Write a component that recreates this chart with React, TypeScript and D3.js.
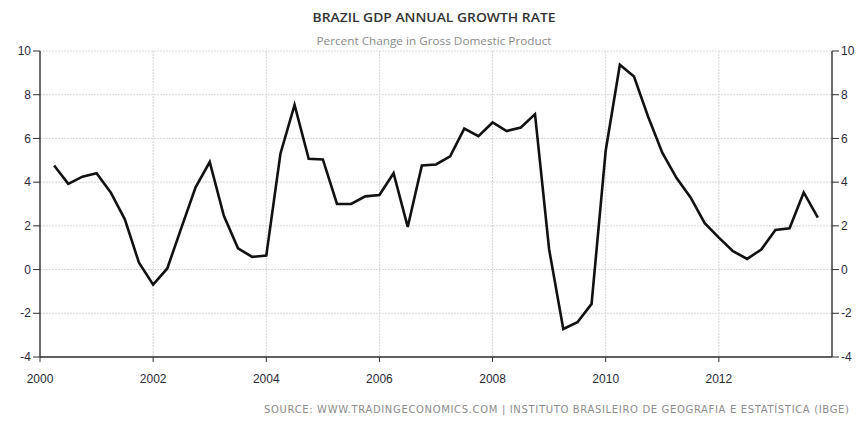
import React from "react";
import * as d3 from "d3";

const title = "BRAZIL GDP ANNUAL GROWTH RATE";
const subtitle = "Percent Change in Gross Domestic Product";
const source = "SOURCE: WWW.TRADINGECONOMICS.COM | INSTITUTO BRASILEIRO DE GEOGRAFIA E ESTATÍSTICA (IBGE)";

// quarterly periods, ending at each quarter (2000.25 = Q1 2000)
const periods: number[] = [
  2000.25, 2000.5, 2000.75, 2001.0, 2001.25, 2001.5, 2001.75, 2002.0,
  2002.25, 2002.5, 2002.75, 2003.0, 2003.25, 2003.5, 2003.75, 2004.0,
  2004.25, 2004.5, 2004.75, 2005.0, 2005.25, 2005.5, 2005.75, 2006.0,
  2006.25, 2006.5, 2006.75, 2007.0, 2007.25, 2007.5, 2007.75, 2008.0,
  2008.25, 2008.5, 2008.75, 2009.0, 2009.25, 2009.5, 2009.75, 2010.0,
  2010.25, 2010.5, 2010.75, 2011.0, 2011.25, 2011.5, 2011.75, 2012.0,
  2012.25, 2012.5, 2012.75, 2013.0, 2013.25, 2013.5, 2013.75,
];
const growth: number[] = [
  4.76, 3.92, 4.25, 4.41, 3.53, 2.3, 0.31, -0.69,
  0.05, 1.92, 3.76, 4.92, 2.46, 0.97, 0.58, 0.64,
  5.3, 7.53, 5.07, 5.04, 3.0, 3.0, 3.35, 3.41,
  4.41, 1.95, 4.76, 4.81, 5.18, 6.45, 6.1, 6.73,
  6.34, 6.5, 7.11, 0.92, -2.72, -2.41, -1.57, 5.45,
  9.37, 8.83, 6.99, 5.35, 4.2, 3.3, 2.12, 1.46,
  0.84, 0.49, 0.92, 1.81, 1.89, 3.53, 2.38,
];
const yTicks: number[] = [-4, -2, 0, 2, 4, 6, 8, 10];
const xTicks: number[] = [2000, 2002, 2004, 2006, 2008, 2010, 2012];

const W = 857;
const H = 421;
const left = 40;
const right = 832;
const top = 51;
const bottom = 357;

export default function App() {
  const x = d3.scaleLinear().domain([2000, 2014]).range([left, right]);
  const y = d3.scaleLinear().domain([-4, 10]).range([bottom, top]);
  const line = d3
    .line<number>()
    .x((_, i) => x(periods[i]))
    .y((d) => y(d));
  const axisColor = "#2e2e2e";
  const labelColor = "#2a2a3a";
  const gridColor = "#d6d6d6";
  const font = "Liberation Sans, Arial, sans-serif";

  return (
    <svg
      width={W}
      height={H}
      style={{ position: "absolute", left: 0, top: 0, background: "#fff" }}
    >
      <text
        x={434}
        y={22}
        textAnchor="middle"
        fontFamily="'Open Sans', sans-serif"
        fontWeight={600}
        fontSize={13}
        fill="#333"
        textLength={243}
        lengthAdjust="spacingAndGlyphs"
      >
        {title}
      </text>
      <text
        x={434}
        y={45}
        textAnchor="middle"
        fontFamily="'Open Sans', sans-serif"
        fontSize={10.5}
        fill="#8a8a8a"
        textLength={235}
        lengthAdjust="spacingAndGlyphs"
      >
        {subtitle}
      </text>

      {/* grid */}
      {yTicks.map((t) => (
        <line
          key={"gy" + t}
          x1={left}
          x2={right}
          y1={y(t)}
          y2={y(t)}
          stroke={gridColor}
          strokeWidth={1}
          strokeDasharray="2,1"
        />
      ))}
      {xTicks
        .filter((t) => t > 2000)
        .map((t) => (
          <line
            key={"gx" + t}
            x1={x(t)}
            x2={x(t)}
            y1={top}
            y2={bottom}
            stroke={gridColor}
            strokeWidth={1}
            strokeDasharray="2,1"
          />
        ))}

      {/* axes */}
      <line x1={left} x2={left} y1={top} y2={bottom} stroke={axisColor} strokeWidth={1.4} />
      <line x1={right} x2={right} y1={top} y2={bottom} stroke={axisColor} strokeWidth={1.4} />
      <line x1={left} x2={right} y1={bottom} y2={bottom} stroke={axisColor} strokeWidth={1.4} />

      {yTicks.map((t) => (
        <g key={"yl" + t}>
          <line x1={left - 7} x2={left} y1={y(t)} y2={y(t)} stroke={axisColor} strokeWidth={1} />
          <text
            x={left - 9}
            y={y(t)}
            dy="0.35em"
            textAnchor="end"
            fontFamily={font}
            fontSize={12}
            fill={labelColor}
          >
            {t}
          </text>
          <line x1={right} x2={right + 7} y1={y(t)} y2={y(t)} stroke={axisColor} strokeWidth={1} />
          <text
            x={right + 9}
            y={y(t)}
            dy="0.35em"
            textAnchor="start"
            fontFamily={font}
            fontSize={12}
            fill={labelColor}
          >
            {t}
          </text>
        </g>
      ))}

      {xTicks.map((t) => (
        <g key={"xl" + t}>
          <line x1={x(t)} x2={x(t)} y1={bottom} y2={bottom + 5} stroke={axisColor} strokeWidth={1} />
          <text
            x={x(t)}
            y={383}
            textAnchor="middle"
            fontFamily={font}
            fontSize={12}
            fill={labelColor}
          >
            {t}
          </text>
        </g>
      ))}

      <path
        d={line(growth) || ""}
        fill="none"
        stroke="#111"
        strokeWidth={2.6}
        strokeLinejoin="miter"
      />

      <text
        x={849}
        y={413}
        textAnchor="end"
        fontFamily="'DejaVu Sans', sans-serif"
        fontSize={10}
        fill="#8c8c8c"
        textLength={585}
        lengthAdjust="spacing"
      >
        {source}
      </text>
    </svg>
  );
}
